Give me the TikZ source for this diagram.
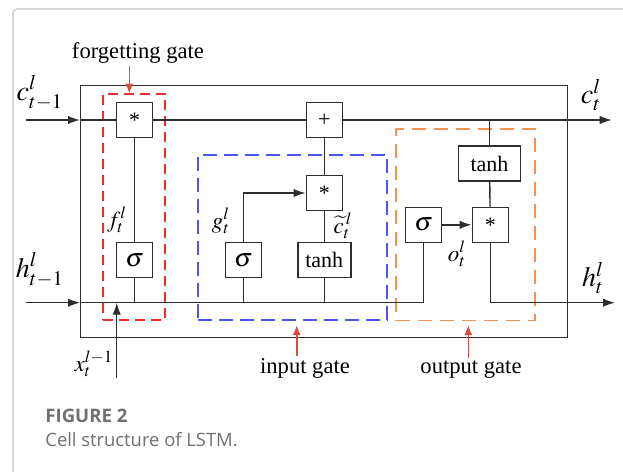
\documentclass[tikz,border=0pt]{standalone}
\usepackage{mathptmx}
\usepackage{fontspec}
\setmainfont{Liberation Serif}
\newfontfamily\capfont{Open Sans}
\usetikzlibrary{arrows.meta,positioning}

\definecolor{wiregray}{RGB}{45,45,45}
\definecolor{forgetred}{RGB}{235,45,45}
\definecolor{inputblue}{RGB}{75,85,245}
\definecolor{outputorange}{RGB}{245,145,85}
\definecolor{pointred}{RGB}{215,75,65}
\definecolor{cardgray}{RGB}{215,215,215}
\definecolor{captiongray}{RGB}{112,112,112}

\begin{document}
\begin{tikzpicture}[
  x=0.5pt, y=-0.5pt,
  wire/.style={draw=wiregray, line width=0.7pt},
  arrow/.style={wire, -{Latex[length=6pt, width=4.2pt]}},
  opbox/.style={draw=wiregray, line width=0.7pt, fill=white, inner sep=0pt, minimum width=18pt, minimum height=17.5pt, font=\fontsize{11}{13}\selectfont},
  sigbox/.style={opbox, font=\fontsize{13}{15}\selectfont},
  gatebox/.style={draw, line width=0.85pt, inner sep=0pt},
  pointer/.style={draw=pointred, line width=0.8pt, -{Latex[length=5pt, width=4pt]}},
  outerlabel/.style={inner sep=0pt, font=\fontsize{14}{16}\selectfont},
  innerlabel/.style={inner sep=0pt, font=\fontsize{11.5}{13}\selectfont},
  gatelabel/.style={inner sep=1pt, font=\fontsize{11.3}{13}\selectfont}
]
\useasboundingbox (0,0) rectangle (623,472);

% card
\draw[cardgray, line width=0.8pt, rounded corners=2pt] (623,9) -- (13,9) -- (13,472);

% cell frame and gates
\node[draw=wiregray, line width=0.7pt, inner sep=0pt, minimum width=243.5pt, minimum height=126.2pt] (cell) at (324.2,211.5) {};
\node[gatebox, draw=forgetred, dash pattern=on 5pt off 3pt, minimum width=31.15pt, minimum height=113.15pt] (fgate) at (133.85,206.85) {};
\node[gatebox, draw=inputblue, dash pattern=on 7pt off 3.5pt, minimum width=94.65pt, minimum height=82.5pt] (igate) at (292.65,237.5) {};
\node[gatebox, draw=outputorange, dash pattern=on 7pt off 4pt, minimum width=69.5pt, minimum height=95.75pt] (ogate) at (465.5,224.75) {};

% operations
\node[opbox] (fmul) at (134.7,120) {*};
\node[sigbox] (fsig) at (134.7,260) {$\sigma$};
\node[opbox] (add) at (324.3,120) {+};
\node[opbox] (imul) at (324.3,193) {*};
\node[sigbox] (isig) at (243.3,260) {$\sigma$};
\node[opbox, minimum width=26.5pt] (itanh) at (324.3,260) {tanh};
\node[opbox, minimum width=30.8pt] (otanh) at (489.5,163.5) {tanh};
\node[sigbox] (osig) at (423.5,224.8) {$\sigma$};
\node[opbox] (omul) at (490.3,224.8) {*};

% inputs and outputs
\coordinate (cin) at (26,120);
\coordinate (cout) at (611.7,120);
\coordinate (hin) at (26,302.7);
\coordinate (hout) at (615,302.7);
\coordinate (xin) at (116.7,378);

% cell state
\draw[arrow] (cin) -- (cin -| cell.west);
\draw[wire] (cin -| cell.west) -- (fmul);
\draw[wire] (fmul) -- (add);
\draw[arrow] (add) -- (cout);
\draw[wire] (fsig) -- (fmul);
\draw[wire] (itanh) -- (imul);
\draw[wire] (imul) -- (add);
\draw[arrow] (isig.north) |- (imul.west);
\draw[wire] (otanh.north) -- (otanh.north |- add);
\draw[wire] (omul) -- (otanh);
\draw[arrow] (osig) -- (omul);

% hidden state
\draw[arrow] (hin) -- (hin -| cell.west);
\draw[wire] (hin -| cell.west) -- (osig.south |- hin) -- (osig.south);
\draw[wire] (fsig.south) -- (fsig.south |- hin);
\draw[wire] (isig.south) -- (isig.south |- hin);
\draw[wire] (itanh.south) -- (itanh.south |- hin);
\draw[arrow] (omul.south) |- (hout);
\draw[arrow] (xin) -- (xin |- hin);

% labels
\node[outerlabel] (cprev) at (40,93) {$c^{l}_{t-1}$};
\node[outerlabel] (hprev) at (40,270) {$h^{l}_{t-1}$};
\node[outerlabel] (cnext) at (591,95) {$c^{l}_{t}$};
\node[outerlabel] (hnext) at (593,278) {$h^{l}_{t}$};
\node[innerlabel] (xlab) at (94,364) {$x^{l-1}_{t}$};
\node[innerlabel] (flab) at (117,220) {$f^{l}_{t}$};
\node[innerlabel] (glab) at (221,221) {$g^{l}_{t}$};
\node[innerlabel] (ctlab) at (343,226) {$\widetilde{c}^{\,l}_{t}$};
\node[innerlabel] (olab) at (457,254) {$o^{l}_{t}$};

% gate names
\node[gatelabel, anchor=base] (fname) at (138,58.3) {forgetting gate};
\node[gatelabel, anchor=base] (iname) at (305,373.3) {input gate};
\node[gatelabel, anchor=base] (oname) at (471,373.3) {output gate};
\coordinate (ftip) at (129.3,93.7);
\coordinate (itip) at (296.7,325);
\coordinate (otip) at (468.3,325);
\draw[pointer] (ftip |- fname.south) -- (ftip);
\draw[pointer] (itip |- iname.north) -- (itip);
\draw[pointer] (otip |- oname.north) -- (otip);

% caption
\node[anchor=base west, inner sep=0pt, text=captiongray, font=\capfont\bfseries\fontsize{9.3}{11}\selectfont] (figno) at (45,422.3) {FIGURE 2};
\node[anchor=base west, inner sep=0pt, text=captiongray, font=\capfont\fontsize{9.2}{11}\selectfont] (figcap) at (45,446.7) {Cell structure of LSTM.};
\end{tikzpicture}
\end{document}
